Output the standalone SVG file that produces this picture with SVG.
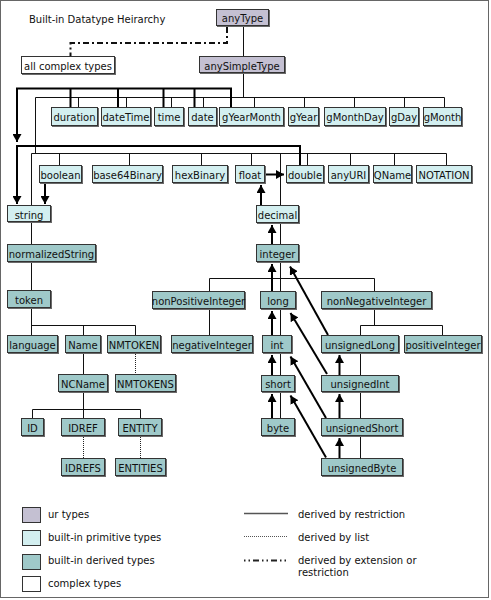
<svg xmlns="http://www.w3.org/2000/svg" width="491" height="600" viewBox="0 0 491 600">
<defs>
<style>
text{font-family:"DejaVu Sans","Liberation Sans",sans-serif;font-size:10px;fill:#111}
.n text{text-anchor:middle}
.sh{fill:#6a6a6a}
.bx{stroke:#333;stroke-width:1}
.ur .bx,.lur{fill:#C4C0D2}
.pr .bx,.lpr{fill:#D3EFF0}
.dv .bx,.ldv{fill:#9FC9C9}
.cx .bx,.lcx{fill:#fff}
.sw{stroke:#333;stroke-width:1}
.t{fill:none;stroke:#111;stroke-width:1}
.k{fill:none;stroke:#000;stroke-width:2}
.a{marker-end:url(#ah)}
.d{fill:none;stroke:#222;stroke-width:1;stroke-dasharray:1 1}
.dd{fill:none;stroke:#111;stroke-width:2;stroke-dasharray:6 3 2 3}
</style>
<marker id="ah" viewBox="0 0 8 9" refX="8" refY="4.5" markerWidth="8" markerHeight="9" markerUnits="userSpaceOnUse" orient="auto"><path d="M0,0 L8,4.5 L0,9 z" fill="#000"/></marker>
</defs>
<rect x="0.5" y="0.5" width="488" height="597" fill="#fff" stroke="#666"/>
<text x="29" y="23">Built-in Datatype Heirarchy</text>

<g id="connectors">
<path class="dd" d="M227,27 V43 H70.5 V56"/>
<path class="t" d="M243.5,27 V56 M243.5,74 V97.5 M35.5,97.5 H444.5 M78.5,97.5 V107 M126.5,97.5 V107 M171.5,97.5 V107 M203.5,97.5 V107 M254.5,97.5 V107 M304.5,97.5 V107 M354.5,97.5 V107 M404.5,97.5 V107 M444.5,97.5 V107 M35.5,97.5 V153.5 M31.5,153.5 H446.5 M59.5,153.5 V165 M129.5,153.5 V165 M201.5,153.5 V165 M251.5,153.5 V165 M307.5,153.5 V165 M350.5,153.5 V165 M394.5,153.5 V165 M446.5,153.5 V165 M31.5,153.5 V335 M31.5,325.5 H135.5 M83.5,325.5 V335 M135.5,325.5 V335 M83.5,354 V418 M32.5,409.5 H140.5 M32.5,409.5 V418 M140.5,409.5 V418 M280.5,153.5 V418 M209.5,278.5 H374.5 M209.5,278.5 V335 M374.5,278.5 V325.5 M360.5,325.5 H442.5 M442.5,325.5 V335 M360.5,325.5 V458"/>
<path class="d" d="M135.5,354 V374 M83.5,437 V458 M140.5,437 V458"/>
<path class="k" d="M70.5,88.5 V107 M118,88.5 V107 M163.5,88.5 V107 M194.5,88.5 V107"/>
<path class="k a" d="M231,107 V88.5 H17 V142"/>
<path class="k a" d="M300,165 V146 H17 V204"/>
<path class="k a" d="M45,184 V204"/>
<path class="k a" d="M266,174.5 H284"/>
<path class="k a" d="M261,205 V185"/>
<path class="k a" d="M272,244 V225"/>
<path class="k a" d="M272,291 V264"/>
<path class="k a" d="M272,335 V311"/>
<path class="k a" d="M272,375 V355"/>
<path class="k a" d="M272,418 V394"/>
<path class="k a" d="M339.5,375 V355"/>
<path class="k a" d="M339.5,418 V394"/>
<path class="k a" d="M339.5,458 V438"/>
<path class="k a" d="M328,335 L290,266.5"/>
<path class="k a" d="M327,374 L290.5,313"/>
<path class="k a" d="M326,418 L290.5,356.5"/>
<path class="k a" d="M326,457.5 L290.5,395.5"/>
</g>

<g id="anyType" class="n ur"><rect class="sh" x="217" y="10" width="53" height="17"/><rect class="bx" x="216.5" y="9.5" width="52" height="16"/><text x="242.5" y="22">anyType</text></g>
<g id="allComplexTypes" class="n cx"><rect class="sh" x="22" y="57" width="94" height="18"/><rect class="bx" x="21.5" y="56.5" width="93" height="17"/><text x="68" y="70">all complex types</text></g>
<g id="anySimpleType" class="n ur"><rect class="sh" x="200" y="57" width="86" height="17"/><rect class="bx" x="199.5" y="56.5" width="85" height="16"/><text x="242" y="69.5">anySimpleType</text></g>

<g id="duration" class="n pr"><rect class="sh" x="52" y="108" width="47" height="19"/><rect class="bx" x="51.5" y="107.5" width="46" height="18"/><text x="74.5" y="121">duration</text></g>
<g id="dateTime" class="n pr"><rect class="sh" x="102" y="108" width="50" height="19"/><rect class="bx" x="101.5" y="107.5" width="49" height="18"/><text x="126" y="121">dateTime</text></g>
<g id="time" class="n pr"><rect class="sh" x="155" y="108" width="30" height="19"/><rect class="bx" x="154.5" y="107.5" width="29" height="18"/><text x="169" y="121">time</text></g>
<g id="date" class="n pr"><rect class="sh" x="189" y="108" width="29" height="19"/><rect class="bx" x="188.5" y="107.5" width="28" height="18"/><text x="202.5" y="121">date</text></g>
<g id="gYearMonth" class="n pr"><rect class="sh" x="220" y="108" width="65" height="19"/><rect class="bx" x="219.5" y="107.5" width="64" height="18"/><text x="251.5" y="121">gYearMonth</text></g>
<g id="gYear" class="n pr"><rect class="sh" x="289" y="108" width="31" height="19"/><rect class="bx" x="288.5" y="107.5" width="30" height="18"/><text x="303.5" y="121">gYear</text></g>
<g id="gMonthDay" class="n pr"><rect class="sh" x="325" y="108" width="62" height="19"/><rect class="bx" x="324.5" y="107.5" width="61" height="18"/><text x="355" y="121">gMonthDay</text></g>
<g id="gDay" class="n pr"><rect class="sh" x="390" y="108" width="30" height="19"/><rect class="bx" x="389.5" y="107.5" width="29" height="18"/><text x="404" y="121">gDay</text></g>
<g id="gMonth" class="n pr"><rect class="sh" x="424" y="108" width="39" height="19"/><rect class="bx" x="423.5" y="107.5" width="38" height="18"/><text x="442.5" y="121">gMonth</text></g>

<g id="boolean" class="n pr"><rect class="sh" x="40" y="166" width="43" height="18"/><rect class="bx" x="39.5" y="165.5" width="42" height="17"/><text x="60.5" y="178.5">boolean</text></g>
<g id="base64Binary" class="n pr"><rect class="sh" x="93" y="166" width="71" height="18"/><rect class="bx" x="92.5" y="165.5" width="70" height="17"/><text x="127.5" y="178.5">base64Binary</text></g>
<g id="hexBinary" class="n pr"><rect class="sh" x="173" y="166" width="56" height="18"/><rect class="bx" x="172.5" y="165.5" width="55" height="17"/><text x="200" y="178.5">hexBinary</text></g>
<g id="float" class="n pr"><rect class="sh" x="236" y="166" width="30" height="18"/><rect class="bx" x="235.5" y="165.5" width="29" height="17"/><text x="250" y="178.5">float</text></g>
<g id="double" class="n pr"><rect class="sh" x="287" y="166" width="38" height="18"/><rect class="bx" x="286.5" y="165.5" width="37" height="17"/><text x="305" y="178.5">double</text></g>
<g id="anyURI" class="n pr"><rect class="sh" x="329" y="166" width="41" height="18"/><rect class="bx" x="328.5" y="165.5" width="40" height="17"/><text x="348.5" y="178.5">anyURI</text></g>
<g id="QName" class="n pr"><rect class="sh" x="374" y="166" width="39" height="18"/><rect class="bx" x="373.5" y="165.5" width="38" height="17"/><text x="392.5" y="178.5">QName</text></g>
<g id="NOTATION" class="n pr"><rect class="sh" x="417" y="166" width="56" height="18"/><rect class="bx" x="416.5" y="165.5" width="55" height="17"/><text x="444" y="178.5">NOTATION</text></g>

<g id="string" class="n pr"><rect class="sh" x="8" y="206" width="44" height="17"/><rect class="bx" x="7.5" y="205.5" width="43" height="16"/><text x="29" y="218.5">string</text></g>
<g id="decimal" class="n pr"><rect class="sh" x="257" y="206" width="43" height="18"/><rect class="bx" x="256.5" y="205.5" width="42" height="17"/><text x="277.5" y="218.5">decimal</text></g>
<g id="normalizedString" class="n dv"><rect class="sh" x="8" y="245" width="89" height="18"/><rect class="bx" x="7.5" y="244.5" width="88" height="17"/><text x="51.5" y="257.5">normalizedString</text></g>
<g id="integer" class="n dv"><rect class="sh" x="257" y="245" width="43" height="18"/><rect class="bx" x="256.5" y="244.5" width="42" height="17"/><text x="277.5" y="257.5">integer</text></g>
<g id="token" class="n dv"><rect class="sh" x="8" y="291" width="44" height="18"/><rect class="bx" x="7.5" y="290.5" width="43" height="17"/><text x="29" y="303.5">token</text></g>
<g id="nonPositiveInteger" class="n dv"><rect class="sh" x="153" y="292" width="93" height="18"/><rect class="bx" x="152.5" y="291.5" width="92" height="17"/><text x="198.5" y="304.5">nonPositiveInteger</text></g>
<g id="long" class="n dv"><rect class="sh" x="261" y="292" width="36" height="18"/><rect class="bx" x="260.5" y="291.5" width="35" height="17"/><text x="278" y="304.5">long</text></g>
<g id="nonNegativeInteger" class="n dv"><rect class="sh" x="322" y="292" width="111" height="18"/><rect class="bx" x="321.5" y="291.5" width="110" height="17"/><text x="376.5" y="304.5">nonNegativeInteger</text></g>

<g id="language" class="n dv"><rect class="sh" x="8" y="336" width="51" height="18"/><rect class="bx" x="7.5" y="335.5" width="50" height="17"/><text x="32.5" y="348.5">language</text></g>
<g id="Name" class="n dv"><rect class="sh" x="66" y="336" width="36" height="18"/><rect class="bx" x="65.5" y="335.5" width="35" height="17"/><text x="83" y="348.5">Name</text></g>
<g id="NMTOKEN" class="n dv"><rect class="sh" x="108" y="336" width="54" height="18"/><rect class="bx" x="107.5" y="335.5" width="53" height="17"/><text x="134" y="348.5">NMTOKEN</text></g>
<g id="negativeInteger" class="n dv"><rect class="sh" x="172" y="336" width="82" height="18"/><rect class="bx" x="171.5" y="335.5" width="81" height="17"/><text x="212" y="348.5">negativeInteger</text></g>
<g id="int" class="n dv"><rect class="sh" x="263" y="336" width="30" height="18"/><rect class="bx" x="262.5" y="335.5" width="29" height="17"/><text x="277" y="348.5">int</text></g>
<g id="unsignedLong" class="n dv"><rect class="sh" x="322" y="336" width="78" height="18"/><rect class="bx" x="321.5" y="335.5" width="77" height="17"/><text x="360" y="348.5">unsignedLong</text></g>
<g id="positiveInteger" class="n dv"><rect class="sh" x="405" y="336" width="78" height="18"/><rect class="bx" x="404.5" y="335.5" width="77" height="17"/><text x="443" y="348.5">positiveInteger</text></g>

<g id="NCName" class="n dv"><rect class="sh" x="59" y="375" width="50" height="18"/><rect class="bx" x="58.5" y="374.5" width="49" height="17"/><text x="83" y="387.5">NCName</text></g>
<g id="NMTOKENS" class="n dv"><rect class="sh" x="116" y="375" width="61" height="18"/><rect class="bx" x="115.5" y="374.5" width="60" height="17"/><text x="145.5" y="387.5">NMTOKENS</text></g>
<g id="short" class="n dv"><rect class="sh" x="262" y="376" width="34" height="17"/><rect class="bx" x="261.5" y="375.5" width="33" height="16"/><text x="278" y="388">short</text></g>
<g id="unsignedInt" class="n dv"><rect class="sh" x="322" y="376" width="78" height="17"/><rect class="bx" x="321.5" y="375.5" width="77" height="16"/><text x="360" y="388">unsignedInt</text></g>

<g id="ID" class="n dv"><rect class="sh" x="22" y="419" width="23" height="18"/><rect class="bx" x="21.5" y="418.5" width="22" height="17"/><text x="32.5" y="431.5">ID</text></g>
<g id="IDREF" class="n dv"><rect class="sh" x="62" y="419" width="44" height="18"/><rect class="bx" x="61.5" y="418.5" width="43" height="17"/><text x="83" y="431.5">IDREF</text></g>
<g id="ENTITY" class="n dv"><rect class="sh" x="119" y="419" width="44" height="18"/><rect class="bx" x="118.5" y="418.5" width="43" height="17"/><text x="140" y="431.5">ENTITY</text></g>
<g id="byte" class="n dv"><rect class="sh" x="262" y="419" width="34" height="18"/><rect class="bx" x="261.5" y="418.5" width="33" height="17"/><text x="278" y="431.5">byte</text></g>
<g id="unsignedShort" class="n dv"><rect class="sh" x="322" y="419" width="82" height="18"/><rect class="bx" x="321.5" y="418.5" width="81" height="17"/><text x="362" y="431.5">unsignedShort</text></g>

<g id="IDREFS" class="n dv"><rect class="sh" x="62" y="459" width="44" height="18"/><rect class="bx" x="61.5" y="458.5" width="43" height="17"/><text x="83" y="471.5">IDREFS</text></g>
<g id="ENTITIES" class="n dv"><rect class="sh" x="116" y="459" width="51" height="18"/><rect class="bx" x="115.5" y="458.5" width="50" height="17"/><text x="140.5" y="471.5">ENTITIES</text></g>
<g id="unsignedByte" class="n dv"><rect class="sh" x="322" y="459" width="82" height="18"/><rect class="bx" x="321.5" y="458.5" width="81" height="17"/><text x="362" y="471.5">unsignedByte</text></g>

<g id="legend">
<rect class="sw lur" x="22.5" y="507.5" width="18" height="15"/>
<rect class="sw lpr" x="22.5" y="530.5" width="18" height="15"/>
<rect class="sw ldv" x="22.5" y="554.5" width="18" height="15"/>
<rect class="sw lcx" x="22.5" y="576.5" width="18" height="15"/>
<text x="48" y="518">ur types</text>
<text x="48" y="541">built-in primitive types</text>
<text x="48" y="564">built-in derived types</text>
<text x="48" y="587">complex types</text>
<path d="M244,513.5 H288" fill="none" stroke="#555" stroke-width="1.5"/>
<path d="M244,536.5 H288" fill="none" stroke="#555" stroke-width="1" stroke-dasharray="1 1"/>
<path d="M244,560.5 H288" fill="none" stroke="#222" stroke-width="2" stroke-dasharray="1.5 3 1.5 3 6 3"/>
<text x="298" y="518">derived by restriction</text>
<text x="298" y="541">derived by list</text>
<text x="298" y="564">derived by extension or</text>
<text x="298" y="575.5">restriction</text>
</g>
</svg>
